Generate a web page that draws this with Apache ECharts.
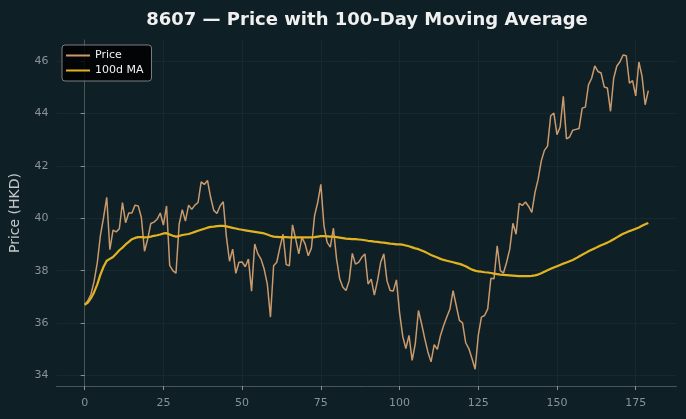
<!DOCTYPE html>
<html>
<head>
<meta charset="utf-8">
<script src="https://cdn.jsdelivr.net/npm/echarts@6/dist/echarts.min.js"></script>
<style>
  html, body { margin: 0; padding: 0; background: #0f1f26; }
  #chart { width: 686px; height: 419px; }
</style>
</head>
<body>
<div id="chart"></div>
<script>
// 收盘价 (day 0 .. 179)
var price = [
  36.70, 36.85, 37.10, 37.60, 38.30, 39.35, 40.03, 40.80, 38.80, 39.55,
  39.48, 39.60, 40.60, 39.83, 40.20, 40.20, 40.50, 40.47, 40.03, 38.74,
  39.20, 39.80, 39.85, 39.96, 40.20, 39.74, 40.47, 38.20, 38.00, 37.90,
  39.77, 40.33, 39.89, 40.50, 40.34, 40.50, 40.60, 41.39, 41.29, 41.44,
  40.80, 40.30, 40.18, 40.47, 40.63, 39.30, 38.36, 38.82, 37.90, 38.32,
  38.33, 38.15, 38.44, 37.22, 39.02, 38.64, 38.44, 38.06, 37.49, 36.23,
  38.19, 38.32, 38.89, 39.39, 38.23, 38.19, 39.75, 39.21, 38.64, 39.27,
  39.02, 38.57, 38.86, 40.09, 40.60, 41.29, 39.71, 39.08, 38.90, 39.62,
  38.44, 37.68, 37.37, 37.24, 37.62, 38.66, 38.25, 38.32, 38.51, 38.64,
  37.49, 37.68, 37.07, 37.62, 38.32, 38.64, 37.62, 37.24, 37.22, 37.65,
  36.40, 35.50, 35.03, 35.53, 34.58, 35.22, 36.48, 35.97, 35.41, 34.90,
  34.52, 35.18, 35.00, 35.53, 35.91, 36.23, 36.54, 37.24, 36.67, 36.10,
  36.01, 35.25, 35.03, 34.65, 34.24, 35.53, 36.23, 36.29, 36.54, 37.71,
  37.69, 38.95, 38.00, 37.91, 38.32, 38.82, 39.81, 39.39, 40.57, 40.49,
  40.62, 40.45, 40.22, 40.98, 41.48, 42.18, 42.59, 42.75, 43.91, 44.01,
  43.19, 43.48, 44.65, 43.03, 43.10, 43.36, 43.39, 43.42, 44.20, 44.24,
  45.09, 45.34, 45.81, 45.60, 45.54, 45.01, 44.97, 44.08, 45.34, 45.81,
  45.97, 46.23, 46.20, 45.15, 45.25, 44.67, 45.96, 45.42, 44.33, 44.87
];
// 100日均线
var ma100 = [
  36.70, 36.78, 36.95, 37.18, 37.48, 37.85, 38.15, 38.38, 38.45, 38.52,
  38.65, 38.78, 38.88, 39.00, 39.10, 39.20, 39.25, 39.28, 39.28, 39.27,
  39.28, 39.30, 39.33, 39.35, 39.38, 39.42, 39.43, 39.38, 39.33, 39.30,
  39.32, 39.36, 39.38, 39.40, 39.44, 39.48, 39.52, 39.56, 39.60, 39.64,
  39.67, 39.68, 39.70, 39.71, 39.71, 39.69, 39.66, 39.63, 39.61, 39.58,
  39.56, 39.54, 39.52, 39.50, 39.48, 39.46, 39.44, 39.42, 39.38, 39.33,
  39.30, 39.29, 39.28, 39.28, 39.28, 39.27, 39.27, 39.27, 39.27, 39.27,
  39.27, 39.27, 39.27, 39.28, 39.30, 39.32, 39.32, 39.31, 39.30, 39.30,
  39.28, 39.26, 39.24, 39.22, 39.21, 39.20, 39.20, 39.19, 39.18, 39.16,
  39.14, 39.13, 39.11, 39.10, 39.08, 39.07, 39.05, 39.03, 39.02, 39.00,
  39.00, 38.99, 38.96, 38.93, 38.89, 38.85, 38.82, 38.77, 38.72, 38.66,
  38.60, 38.55, 38.50, 38.45, 38.41, 38.38, 38.35, 38.32, 38.29, 38.26,
  38.22, 38.17, 38.10, 38.04, 38.00, 37.97, 37.96, 37.94, 37.93, 37.91,
  37.89, 37.87, 37.85, 37.84, 37.83, 37.82, 37.81, 37.80, 37.79, 37.79,
  37.79, 37.79, 37.80, 37.82, 37.85, 37.90, 37.96, 38.02, 38.07, 38.12,
  38.17, 38.22, 38.27, 38.31, 38.36, 38.41, 38.47, 38.54, 38.61, 38.67,
  38.74, 38.80, 38.85, 38.91, 38.97, 39.02, 39.07, 39.13, 39.20, 39.27,
  39.34, 39.41, 39.46, 39.51, 39.55, 39.60, 39.65, 39.71, 39.77, 39.82
];
var xTicks = [0, 25, 50, 75, 100, 125, 150, 175];
var yTicks = [34, 36, 38, 40, 42, 44, 46];

function toPairs(arr) {
  return arr.map(function (v, i) { return [i, v]; });
}

var chart = echarts.init(document.getElementById('chart'), null, { renderer: 'canvas' });

chart.setOption({
  backgroundColor: '#0f1f26',
  animation: false,
  textStyle: { fontFamily: 'DejaVu Sans' },
  title: {
    text: '8607 — Price with 100-Day Moving Average',
    left: 362, top: 6, textAlign: 'center',
    textStyle: { color: '#f0f0f0', fontSize: 18, fontWeight: 'bold', fontFamily: 'DejaVu Sans' }
  },
  legend: {
    orient: 'vertical',
    left: 62, top: 45,
    padding: [5, 8, 5, 4],
    itemGap: 4,
    itemWidth: 24, itemHeight: 2,
    backgroundColor: 'rgba(0,0,0,0.85)',
    borderColor: '#7a7f82', borderWidth: 1, borderRadius: 3,
    textStyle: { color: '#f0f0f0', fontSize: 11, fontFamily: 'DejaVu Sans' },
    data: [
      { name: 'Price', icon: 'rect' },
      { name: '100d MA', icon: 'rect' }
    ]
  },
  grid: { left: 56.5, right: 9.5, top: 40, bottom: 33 },
  xAxis: {
    type: 'value',
    min: -8.95, max: 187.95,
    axisLine: { show: true, lineStyle: { color: '#4b5559', width: 1 } },
    axisTick: { show: true, customValues: xTicks, length: 4, lineStyle: { color: '#8a9296' } },
    axisLabel: { customValues: xTicks, color: '#8a9296', fontSize: 11, margin: 12 },
    splitLine: { show: true, lineStyle: { color: '#182830', width: 1 } }
  },
  yAxis: {
    type: 'value',
    min: 33.6, max: 46.8,
    name: 'Price (HKD)',
    nameLocation: 'middle',
    nameGap: 34,
    nameTextStyle: { color: '#c4c8ca', fontSize: 14, fontFamily: 'DejaVu Sans' },
    axisLine: { show: true, lineStyle: { color: '#4b5559', width: 1 } },
    axisTick: { show: true, customValues: yTicks, length: 4, lineStyle: { color: '#8a9296' } },
    axisLabel: { customValues: yTicks, color: '#8a9296', fontSize: 11, margin: 8 },
    splitLine: { show: true, lineStyle: { color: '#182830', width: 1 } }
  },
  series: [
    {
      name: 'Price',
      type: 'line',
      data: toPairs(price),
      showSymbol: false,
      symbol: 'none',
      color: '#c99a6c',
      lineStyle: { width: 1.5, color: '#c99a6c' },
      z: 2
    },
    {
      name: '100d MA',
      type: 'line',
      data: toPairs(ma100),
      showSymbol: false,
      symbol: 'none',
      color: '#e2b320',
      lineStyle: { width: 2.2, color: '#e2b320' },
      z: 3
    }
  ]
});
</script>
</body>
</html>
